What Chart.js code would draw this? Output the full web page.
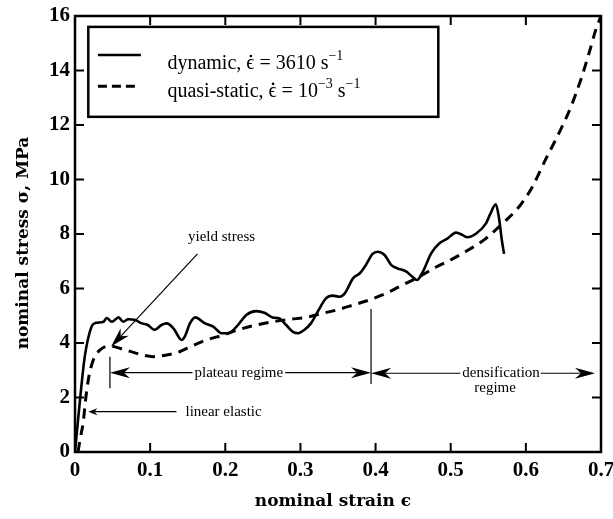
<!DOCTYPE html>
<html>
<head>
<meta charset="utf-8">
<script src="https://cdn.jsdelivr.net/npm/chart.js@4.4.1/dist/chart.umd.min.js"></script>
<style>
  html, body { margin: 0; padding: 0; background: #fff; }
  canvas { display: block; }
</style>
</head>
<body>
<canvas id="foamChart" width="613" height="519"></canvas>
<script>
// dynamic test, strain rate 3610 1/s
const dynStrain = [0, 0.0066, 0.013, 0.022, 0.027, 0.038, 0.042, 0.049, 0.058, 0.064, 0.071, 0.080, 0.089, 0.097,
    0.106, 0.115, 0.122, 0.131, 0.142, 0.146, 0.153, 0.160, 0.173, 0.184, 0.195, 0.204, 0.215, 0.228, 0.241, 0.252,
    0.263, 0.272, 0.281, 0.290, 0.297, 0.305, 0.314, 0.323, 0.334, 0.343, 0.352, 0.359, 0.370, 0.379, 0.387, 0.396,
    0.403, 0.412, 0.421, 0.429, 0.441, 0.449, 0.455, 0.463, 0.474, 0.485, 0.496, 0.507, 0.516, 0.522, 0.534, 0.547,
    0.553, 0.560, 0.564, 0.568, 0.571];
const dynStress = [0, 1.9, 3.5, 4.6, 4.73, 4.78, 4.92, 4.78, 4.94, 4.78, 4.87, 4.84, 4.72, 4.66,
    4.48, 4.66, 4.72, 4.54, 4.11, 4.23, 4.72, 4.94, 4.72, 4.6, 4.36, 4.36, 4.6, 5.03, 5.17, 5.11,
    4.94, 4.9, 4.66, 4.41, 4.36, 4.48, 4.72, 5.15, 5.64, 5.74, 5.7, 5.82, 6.37, 6.56, 6.86, 7.27,
    7.35, 7.23, 6.86, 6.74, 6.62, 6.43, 6.31, 6.62, 7.29, 7.66, 7.84, 8.05, 7.96, 7.88, 8.02, 8.39,
    8.76, 9.09, 8.63, 7.78, 7.27];

// quasi-static test, strain rate 1e-3 1/s
const qsStrain = [0.004, 0.007, 0.011, 0.014, 0.018, 0.024, 0.033, 0.046, 0.064, 0.082, 0.104, 0.122, 0.139, 0.153,
    0.175, 0.197, 0.219, 0.241, 0.263, 0.286, 0.308, 0.328, 0.348, 0.370, 0.392, 0.414, 0.436, 0.458, 0.480, 0.502,
    0.525, 0.547, 0.569, 0.591, 0.608, 0.626, 0.644, 0.660, 0.673, 0.684, 0.693, 0.700];
const qsStress = [0, 0.5, 1.1, 1.9, 2.7, 3.35, 3.74, 3.89, 3.77, 3.62, 3.5, 3.56, 3.68, 3.86,
    4.11, 4.29, 4.5, 4.66, 4.78, 4.87, 4.94, 5.08, 5.21, 5.39, 5.58, 5.82, 6.13, 6.43, 6.78, 7.08,
    7.44, 7.84, 8.39, 9.0, 9.7, 10.72, 11.7, 12.67, 13.65, 14.63, 15.49, 16.0];

const seriesNames = ["dynamic", "quasi-static"];

const SERIF = '"Liberation Serif", "Times New Roman", serif';
const TITLE_FONT = 'bold 17px "DejaVu Serif", serif';

function toPoints(xs, ys) {
    return xs.map((x, i) => ({ x: x, y: ys[i] }));
}

// arrow with a notched, filled head; tip at (x2, y2)
function drawArrow(ctx, x1, y1, x2, y2, headLen, headHalf) {
    const a = Math.atan2(y2 - y1, x2 - x1);
    const cos = Math.cos(a), sin = Math.sin(a);
    ctx.beginPath();
    ctx.moveTo(x1, y1);
    ctx.lineTo(x2 - cos * headLen * 0.7, y2 - sin * headLen * 0.7);
    ctx.stroke();
    ctx.beginPath();
    ctx.moveTo(x2, y2);
    ctx.lineTo(x2 - cos * headLen - sin * headHalf, y2 - sin * headLen + cos * headHalf);
    ctx.lineTo(x2 - cos * headLen * 0.7, y2 - sin * headLen * 0.7);
    ctx.lineTo(x2 - cos * headLen + sin * headHalf, y2 - sin * headLen - cos * headHalf);
    ctx.closePath();
    ctx.fill();
}

// text with superscript parts and a dotted epsilon
function drawRich(ctx, x, y, parts, size) {
    let cx = x;
    parts.forEach(p => {
        if (p.sup) {
            ctx.font = Math.round(size * 0.68) + "px " + SERIF;
            ctx.fillText(p.t, cx, y - size * 0.42);
        } else {
            ctx.font = size + "px " + SERIF;
            ctx.fillText(p.t, cx, y);
        }
        const w = ctx.measureText(p.t).width;
        if (p.dot) {
            ctx.beginPath();
            ctx.arc(cx + w / 2 + 0.5, y - size * 0.64, 1.3, 0, Math.PI * 2);
            ctx.fill();
        }
        cx += w;
    });
}

const legendParts = [
    [{ t: "dynamic, " }, { t: "\u03F5", dot: true }, { t: " = 3610 s" }, { t: "\u22121", sup: true }],
    [{ t: "quasi-static, " }, { t: "\u03F5", dot: true }, { t: " = 10" }, { t: "\u22123", sup: true },
     { t: " s" }, { t: "\u22121", sup: true }]
];

const framePlugin = {
    id: "framePlugin",
    afterDraw(chart) {
        const ctx = chart.ctx;
        const a = chart.chartArea;
        const xs = chart.scales.x, ys = chart.scales.y;
        const px = v => xs.getPixelForValue(v);
        const py = v => ys.getPixelForValue(v);
        ctx.save();
        ctx.strokeStyle = "#000";
        ctx.fillStyle = "#000";

        // frame
        ctx.lineWidth = 2.5;
        ctx.setLineDash([]);
        ctx.strokeRect(a.left, a.top, a.right - a.left, a.bottom - a.top);

        // inward ticks on all four sides
        ctx.lineWidth = 2;
        xs.ticks.forEach(t => {
            const x = px(t.value);
            ctx.beginPath();
            ctx.moveTo(x, a.bottom); ctx.lineTo(x, a.bottom - 9);
            ctx.moveTo(x, a.top); ctx.lineTo(x, a.top + 9);
            ctx.stroke();
        });
        ys.ticks.forEach(t => {
            const y = py(t.value);
            ctx.beginPath();
            ctx.moveTo(a.left, y); ctx.lineTo(a.left + 9, y);
            ctx.moveTo(a.right, y); ctx.lineTo(a.right - 9, y);
            ctx.stroke();
        });

        // legend box
        const lx0 = px(0.0177), lx1 = px(0.4835), ly0 = py(15.6), ly1 = py(12.3);
        ctx.fillStyle = "#fff";
        ctx.fillRect(lx0, ly0, lx1 - lx0, ly1 - ly0);
        ctx.fillStyle = "#000";
        ctx.lineWidth = 2.5;
        ctx.strokeRect(lx0, ly0, lx1 - lx0, ly1 - ly0);
        const rows = [14.57, 13.42];
        const baselines = [14.06, 13.04];
        chart.data.datasets.forEach((ds, i) => {
            ctx.lineWidth = ds.borderWidth;
            ctx.setLineDash(i === 1 ? [9, 5] : []);
            ctx.beginPath();
            ctx.moveTo(px(0.0305), py(rows[i]));
            ctx.lineTo(px(i === 1 ? 0.080 : 0.0877), py(rows[i]));
            ctx.stroke();
            ctx.setLineDash([]);
            ctx.textBaseline = "alphabetic";
            ctx.textAlign = "left";
            drawRich(ctx, px(0.123), py(baselines[i]), legendParts[i], 20);
        });

        // annotations
        ctx.lineWidth = 1.2;
        ctx.font = "15px " + SERIF;
        ctx.textBaseline = "middle";

        // yield stress
        ctx.textAlign = "center";
        ctx.fillText("yield stress", px(0.195), py(7.89));
        drawArrow(ctx, px(0.163), py(7.27), px(0.048), py(3.87), 20, 5.5);

        // plateau regime
        const plY = py(2.91);
        const plW = ctx.measureText("plateau regime").width;
        const plC = px(0.218);
        ctx.fillText("plateau regime", plC, plY);
        drawArrow(ctx, plC - plW / 2 - 2, plY, px(0.0465), plY, 20, 5.5);
        drawArrow(ctx, plC + plW / 2 + 2, plY, px(0.394), plY, 20, 5.5);
        ctx.beginPath();
        ctx.moveTo(px(0.0465), py(3.5)); ctx.lineTo(px(0.0465), py(2.34));
        ctx.moveTo(px(0.394), py(5.25)); ctx.lineTo(px(0.394), py(2.5));
        ctx.stroke();

        // densification regime
        const dnY = py(2.89);
        const dnW = ctx.measureText("densification").width;
        const dnC = px(0.567);
        ctx.fillText("densification", dnC, dnY);
        ctx.fillText("regime", px(0.559), py(2.34));
        drawArrow(ctx, dnC - dnW / 2 - 2, dnY, px(0.394), dnY, 20, 5.5);
        drawArrow(ctx, dnC + dnW / 2 + 1, dnY, px(0.692), dnY, 20, 5.5);

        // linear elastic
        const leY = py(1.48);
        ctx.textAlign = "left";
        ctx.fillText("linear elastic", px(0.147), leY);
        drawArrow(ctx, px(0.135), leY, px(0.0177), leY, 9, 3.5);

        // axis titles
        ctx.font = TITLE_FONT;
        ctx.textAlign = "center";
        ctx.textBaseline = "middle";
        ctx.fillText("nominal strain \u03F5", (a.left + a.right) / 2 - 5, 502);
        ctx.translate(24, 243);
        ctx.rotate(-Math.PI / 2);
        ctx.fillText("nominal stress \u03C3, MPa", 0, 0);
        ctx.restore();
    }
};

new Chart(document.getElementById("foamChart").getContext("2d"), {
    type: "scatter",
    data: {
        datasets: [
            {
                label: seriesNames[0],
                data: toPoints(dynStrain, dynStress),
                showLine: true,
                borderColor: "#000",
                borderWidth: 2.6,
                pointRadius: 0,
                cubicInterpolationMode: "monotone"
            },
            {
                label: seriesNames[1],
                data: toPoints(qsStrain, qsStress),
                showLine: true,
                borderColor: "#000",
                borderWidth: 3,
                borderDash: [10, 7],
                pointRadius: 0,
                cubicInterpolationMode: "monotone"
            }
        ]
    },
    options: {
        responsive: false,
        animation: false,
        layout: { padding: { top: 16, right: 12, left: 0, bottom: 0 } },
        plugins: {
            legend: { display: false },
            tooltip: { enabled: false }
        },
        scales: {
            x: {
                type: "linear",
                min: 0,
                max: 0.7,
                afterFit: s => { s.height = 67; s.paddingLeft = 0; s.paddingRight = 0; },
                grid: { display: false, drawTicks: false },
                border: { display: false },
                ticks: {
                    stepSize: 0.1,
                    padding: 6,
                    color: "#000",
                    maxRotation: 0,
                    font: { family: SERIF, size: 21, weight: "bold" },
                    callback: v => (v === 0 ? "0" : v.toFixed(1))
                }
            },
            y: {
                type: "linear",
                min: 0,
                max: 16,
                afterFit: s => { s.width = 75; s.paddingTop = 0; s.paddingBottom = 0; },
                grid: { display: false, drawTicks: false },
                border: { display: false },
                ticks: {
                    stepSize: 2,
                    padding: 5,
                    color: "#000",
                    font: { family: SERIF, size: 21, weight: "bold" }
                }
            }
        }
    },
    plugins: [framePlugin]
});
</script>
</body>
</html>
